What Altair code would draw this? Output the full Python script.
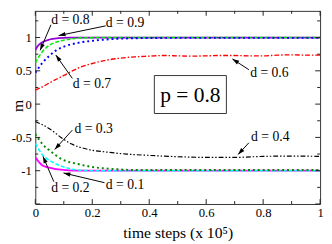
import math
import altair as alt
import pandas as pd

# ---------------- data ----------------
d09_x = [0, 0.008, 0.025, 0.05, 0.08, 0.12, 0.2, 1.0]
d09_y = [0.81, 0.87, 0.93, 0.97, 0.99, 1.0, 1.0, 1.0]

d08_x = [0, 0.02, 0.048, 0.08, 0.128, 0.16, 0.25, 1.0]
d08_y = [0.62, 0.76, 0.88, 0.94, 0.98, 0.995, 1.0, 1.0]

d07_x = [0, 0.025, 0.048, 0.07, 0.105, 0.15, 0.21, 0.265, 0.35, 0.5, 1.0]
d07_y = [0.47, 0.62, 0.72, 0.80, 0.87, 0.92, 0.955, 0.975, 0.99, 0.995, 0.995]

d06_x = [0, 0.025, 0.05, 0.1, 0.15, 0.2, 0.25, 0.3, 0.35, 0.4, 0.45, 0.5, 0.55,
         0.6, 0.65, 0.7, 0.75, 0.8, 0.85, 0.9, 0.95, 1.0]
d06_y = [0.21, 0.26, 0.32, 0.43, 0.54, 0.61, 0.66, 0.69, 0.71, 0.72, 0.73, 0.725, 0.72,
         0.725, 0.73, 0.73, 0.725, 0.725, 0.735, 0.74, 0.735, 0.735]

d04_x = [0, 0.025, 0.05, 0.09, 0.128, 0.185, 0.25, 0.32, 0.4, 0.5, 0.6, 0.7, 0.8, 0.9, 1.0]
d04_y = [-0.26, -0.31, -0.37, -0.50, -0.60, -0.68, -0.72, -0.75, -0.77, -0.79, -0.80,
         -0.80, -0.785, -0.78, -0.785]

d03_x = [0, 0.025, 0.054, 0.094, 0.15, 0.21, 0.276, 0.35, 1.0]
d03_y = [-0.45, -0.60, -0.71, -0.83, -0.90, -0.95, -0.975, -0.99, -0.99]

d02_x = [0, 0.025, 0.06, 0.105, 0.14, 0.2, 1.0]
d02_y = [-0.59, -0.76, -0.87, -0.95, -0.985, -1.0, -1.0]

d01_x = [0, 0.025, 0.06, 0.09, 0.14, 1.0]
d01_y = [-0.80, -0.92, -0.965, -0.985, -1.0, -1.0]

# annotation labels
label_text = ["d = 0.8", "d = 0.9", "d = 0.7", "d = 0.6", "d = 0.3", "d = 0.2", "d = 0.1", "d = 0.4"]
label_x = [0.123, 0.315, 0.199, 0.822, 0.205, 0.123, 0.315, 0.825]
label_y = [1.256, 1.219, 0.298, 0.459, -0.375, -1.268, -1.209, -0.492]

# arrows (start -> tip)
arrow_sx = [0.055, 0.247, 0.130, 0.750, 0.130, 0.065, 0.243, 0.750]
arrow_sy = [1.191, 1.175, 0.386, 0.517, -0.390, -1.165, -1.180, -0.580]
arrow_tx = [0.017, 0.082, 0.072, 0.692, 0.068, 0.027, 0.099, 0.712]
arrow_ty = [0.808, 1.029, 0.737, 0.678, -0.682, -0.785, -1.034, -0.756]

# p box
box_text = ["p = 0.8"]
box_x = [0.418]
box_x2 = [0.671]
box_y = [0.429]
box_y2 = [-0.141]

x_major = [0, 0.2, 0.4, 0.6, 0.8, 1.0]
x_minor = [0.1, 0.3, 0.5, 0.7, 0.9]
y_major = [-1.0, -0.5, 0.0, 0.5, 1.0]
y_minor = [-1.25, -0.75, -0.25, 0.25, 0.75, 1.25]

# ---------------- chart ----------------
W, H = 292, 198
XD = [0, 1]
YD = [-1.5, 1.4]
FONT = "Liberation Serif"

xs = alt.Scale(domain=XD, nice=False, zero=False)
ys = alt.Scale(domain=YD, nice=False, zero=False)

xaxis = alt.Axis(values=x_major, labelExpr="datum.value + ''", ticks=False, tickSize=0,
                 domain=False, grid=False, labelFont=FONT, labelFontSize=13,
                 labelColor="black", labelPadding=3, labelFlush=False,
                 title="time steps (x 10⁵)", titleFont=FONT, titleFontSize=16,
                 titleFontWeight="normal", titleColor="black", titlePadding=5)
yaxis = alt.Axis(values=y_major, labelExpr="datum.value + ''", ticks=False, tickSize=0,
                 domain=False, grid=False, labelFont=FONT, labelFontSize=13,
                 labelColor="black", labelPadding=4, labelFlush=False,
                 title="m", titleFont=FONT, titleFontSize=16, titleFontWeight="normal",
                 titleColor="black", titleAngle=270, titleX=-18, titleY=97,
                 titleAlign="center", titleBaseline="middle")

X = alt.X("x:Q", scale=xs, axis=xaxis)
Y = alt.Y("y:Q", scale=ys, axis=yaxis)

series = [
    (d09_x, d09_y, "#9400D3", None, 1.8),
    (d08_x, d08_y, "#00EE00", [4, 2], 1.6),
    (d07_x, d07_y, "#0000FF", [2, 3], 2.0),
    (d06_x, d06_y, "#FF0000", [5, 2, 1.5, 2], 1.4),
    (d01_x, d01_y, "#FF00FF", None, 1.8),
    (d02_x, d02_y, "#00FFFF", [4, 2], 1.6),
    (d03_x, d03_y, "#008B00", [2, 3], 2.0),
    (d04_x, d04_y, "#000000", [5, 2, 1.5, 2, 1.5, 2], 1.2),
]

layers = []
for sx, sy, col, dash, sw in series:
    kw = dict(color=col, strokeWidth=sw, interpolate="monotone", clip=True)
    if dash is not None:
        kw["strokeDash"] = dash
    layers.append(alt.Chart(pd.DataFrame({"x": sx, "y": sy})).mark_line(**kw).encode(x=X, y=Y))

# inward tick marks on all four sides
TK_COL = "#222"
for vals, ln in [(x_major, 5), (x_minor, 3)]:
    df = pd.DataFrame({"x": vals})
    layers.append(alt.Chart(df).mark_rule(color=TK_COL, strokeWidth=1).encode(
        x=X, y=alt.value(H), y2=alt.value(H - ln)))
    layers.append(alt.Chart(df).mark_rule(color=TK_COL, strokeWidth=1).encode(
        x=X, y=alt.value(0), y2=alt.value(ln)))
for vals, ln in [(y_major + [-1.5], 5), (y_minor, 3)]:
    df = pd.DataFrame({"y": vals})
    layers.append(alt.Chart(df).mark_rule(color=TK_COL, strokeWidth=1).encode(
        y=Y, x=alt.value(0), x2=alt.value(ln)))
    layers.append(alt.Chart(df).mark_rule(color=TK_COL, strokeWidth=1).encode(
        y=Y, x=alt.value(W), x2=alt.value(W - ln)))

# p box
box_df = pd.DataFrame({"x": box_x, "x2": box_x2, "y": box_y, "y2": box_y2, "t": box_text})
layers.append(alt.Chart(box_df).mark_rect(fill="white", stroke="#333", strokeWidth=1).encode(
    x=X, x2=alt.X2("x2"), y=Y, y2=alt.Y2("y2")))
box_txt = pd.DataFrame({"x": [(a + b) / 2 for a, b in zip(box_x, box_x2)],
                        "y": [(a + b) / 2 for a, b in zip(box_y, box_y2)], "t": box_text})
layers.append(alt.Chart(box_txt).mark_text(font=FONT, fontSize=22, color="black",
                                           align="center", baseline="middle", dy=1).encode(
    x=X, y=Y, text="t:N"))

# arrows
px_per_x = W / (XD[1] - XD[0])
px_per_y = H / (YD[1] - YD[0])
angles = []
for a, b, c, d in zip(arrow_sx, arrow_sy, arrow_tx, arrow_ty):
    dx = (c - a) * px_per_x
    dy = -(d - b) * px_per_y
    angles.append(math.degrees(math.atan2(dx, -dy)) % 360)
arr_df = pd.DataFrame({"x": arrow_sx, "y": arrow_sy, "x2": arrow_tx, "y2": arrow_ty})
layers.append(alt.Chart(arr_df).mark_rule(color="black", strokeWidth=1).encode(
    x=X, y=Y, x2=alt.X2("x2"), y2=alt.Y2("y2")))
head_df = pd.DataFrame({"x": arrow_tx, "y": arrow_ty, "ang": angles})
layers.append(alt.Chart(head_df).mark_point(shape="M0,0L-0.32,1L0.32,1Z", filled=True,
                                            size=196, color="black", opacity=1).encode(
    x=X, y=Y, angle=alt.Angle("ang:Q", scale=None)))

# labels
lab_df = pd.DataFrame({"x": label_x, "y": label_y, "t": label_text})
layers.append(alt.Chart(lab_df).mark_text(font=FONT, fontSize=14, color="black",
                                          align="center", baseline="middle").encode(
    x=X, y=Y, text="t:N"))

chart = alt.layer(*layers).properties(
    width=W, height=H,
    autosize=alt.AutoSizeParams(type="none"),
    padding={"left": 28, "top": 0, "right": 4, "bottom": 36},
).configure_view(stroke="#333", strokeWidth=1)

chart.save("out.html", embed_options={"renderer": "svg", "actions": False})
